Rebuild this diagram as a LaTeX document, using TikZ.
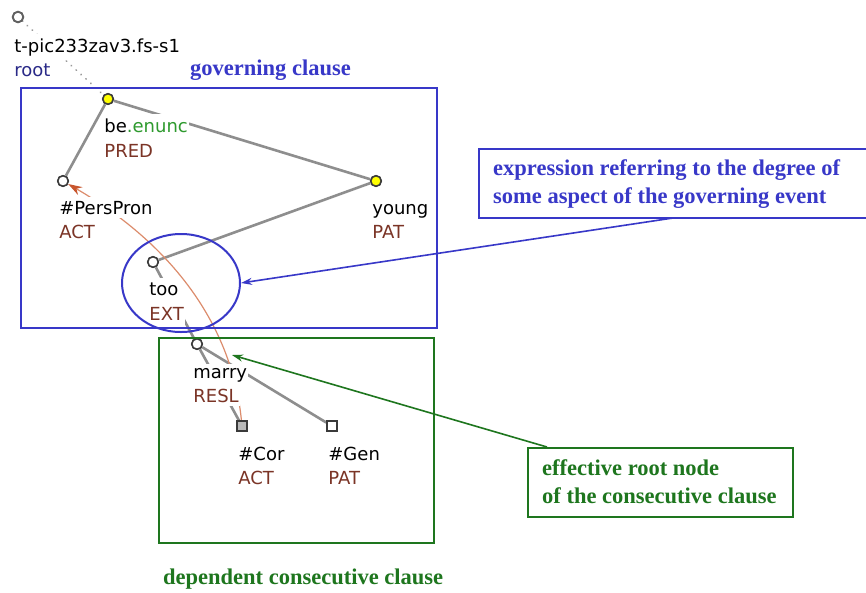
\documentclass[tikz,border=0pt]{standalone}
\usepackage{fontspec}
\setmainfont{Liberation Serif}
\newfontfamily\treefont{DejaVu Sans}
\usetikzlibrary{shapes.geometric,arrows.meta}
\definecolor{edgegray}{HTML}{8E8E8E}
\definecolor{nodeline}{HTML}{3A3A3A}
\definecolor{functor}{HTML}{7B3426}
\definecolor{enunc}{HTML}{2E9A2E}
\definecolor{rootblue}{HTML}{2A2A88}
\definecolor{boxblue}{HTML}{3838C8}
\definecolor{boxgreen}{HTML}{1E761E}
\definecolor{corefline}{HTML}{DC8C6C}
\definecolor{corefhead}{HTML}{C8562D}
\definecolor{yellownode}{HTML}{FFFF00}
\begin{document}
\begin{tikzpicture}[x=1pt,y=-1pt,
  treeedge/.style={draw=edgegray, line width=2.6pt},
  rootedge/.style={draw=edgegray!90, line width=2pt, line cap=round, dash pattern=on 0.1pt off 6.5pt},
  tnode/.style={circle, draw=nodeline, line width=1.5pt, fill=white, minimum size=10.5pt, inner sep=0pt},
  ynode/.style={tnode, fill=yellownode},
  sqnode/.style={rectangle, draw=nodeline, line width=1.4pt, fill=white, minimum size=10pt, inner sep=0pt},
  tlab/.style={anchor=base west, font=\treefont\fontsize{18}{20}\selectfont, fill=white, inner xsep=1.2pt, inner ysep=4pt},
  funct/.style={tlab, text=functor},
  anntext/.style={anchor=base west, font=\bfseries\fontsize{22.5}{27}\selectfont, inner sep=0pt},
  bluebox/.style={draw=boxblue, line width=2pt, rectangle, anchor=north west, inner sep=0pt},
  greenbox/.style={draw=boxgreen, line width=2pt, rectangle, anchor=north west, inner sep=0pt},
  corefarrow/.style={draw=corefline, line width=1.2pt, -{Stealth[length=14pt,width=9pt,color=corefhead,fill=corefhead]}},
  bluearrow/.style={draw=boxblue, line width=1.6pt, -{Stealth[length=11pt,width=7pt]}},
  greenarrow/.style={draw=boxgreen, line width=1.6pt, -{Stealth[length=11pt,width=7pt]}}
]
\useasboundingbox (0,0) rectangle (866,592);
\fill[white] (0,0) rectangle (866,592);

% tree nodes
\node[tnode, draw=nodeline!80, line width=1.8pt] (root) at (18,17) {};
\node[ynode] (be) at (108,99) {};
\node[tnode] (pp) at (63,181) {};
\node[ynode] (young) at (376,181) {};
\node[tnode] (too) at (153,262) {};
\node[tnode] (marry) at (197,344) {};
\node[sqnode, fill=gray!55] (cor) at (242,426) {};
\node[sqnode] (gen) at (332,426) {};

% edges
\draw[rootedge] (root) -- (be);
\draw[treeedge] (be) -- (pp);
\draw[treeedge] (be) -- (young);
\draw[treeedge] (young) -- (too);
\draw[treeedge] (too) -- (marry);
\draw[treeedge] (marry) -- (cor);
\draw[treeedge] (marry) -- (gen);
\draw[corefarrow] (cor) .. controls (232,326) and (173,245) .. (pp);

% labels
\node[tlab] (rootL) at (13,52) {t-pic233zav3.fs-s1};
\node[tlab, text=rootblue] (rootF) at (13,76) {root};
\node[tlab] (beL) at (103,132) {be\textcolor{enunc}{.enunc}};
\node[funct] (beF) at (103,157) {PRED};
\node[tlab] (ppL) at (58,214) {\#PersPron};
\node[funct] (ppF) at (58,238) {ACT};
\node[tlab] (youngL) at (371,214) {young};
\node[funct] (youngF) at (371,238) {PAT};
\node[tlab] (tooL) at (148,295) {too};
\node[funct, inner ysep=8pt] (tooF) at (148,320) {EXT};
\node[tlab] (marryL) at (192,378) {marry};
\node[funct] (marryF) at (192,402) {RESL};
\node[tlab] (corL) at (237,460) {\#Cor};
\node[funct] (corF) at (237,484) {ACT};
\node[tlab] (genL) at (327,460) {\#Gen};
\node[funct] (genF) at (327,484) {PAT};

% redraw node symbols on top
\node[tnode, draw=nodeline!80, line width=1.8pt] at (18,17) {};
\node[ynode] at (108,99) {};
\node[tnode] at (63,181) {};
\node[ynode] at (376,181) {};
\node[tnode] at (153,262) {};
\node[tnode] at (197,344) {};
\node[sqnode, fill=gray!55] at (242,426) {};
\node[sqnode] at (332,426) {};

% clause boxes
\node[bluebox, minimum width=416pt, minimum height=240pt] (gov) at (20,87) {};
\node[greenbox, minimum width=275pt, minimum height=205pt] (dep) at (158,337) {};
\node[ellipse, draw=boxblue, line width=2pt, minimum width=118pt, minimum height=98pt, inner sep=0pt] (ell) at (181,283) {};

\node[anntext, text=boxblue] (govT) at (190,75) {governing clause};
\node[anntext, text=boxgreen] (depT) at (163,584) {dependent consecutive clause};

% callouts
\node[bluebox, minimum width=392pt, minimum height=69pt] (bcall) at (478,148) {};
\node[anntext, text=boxblue] (bT1) at (493,175) {expression referring to the degree of};
\node[anntext, text=boxblue] (bT2) at (493,203) {some aspect of the governing event};
\node[greenbox, minimum width=265pt, minimum height=69pt] (gcall) at (527,447) {};
\node[anntext, text=boxgreen] (gT1) at (542,475) {effective root node};
\node[anntext, text=boxgreen] (gT2) at (542,503) {of the consecutive clause};

\coordinate (bstart) at (673,218);
\coordinate (gstart) at (547,447);
\coordinate (gend) at (232,355);
\draw[bluearrow] (bstart) -- (ell.east);
\draw[greenarrow] (gstart) -- (gend);
\end{tikzpicture}
\end{document}
